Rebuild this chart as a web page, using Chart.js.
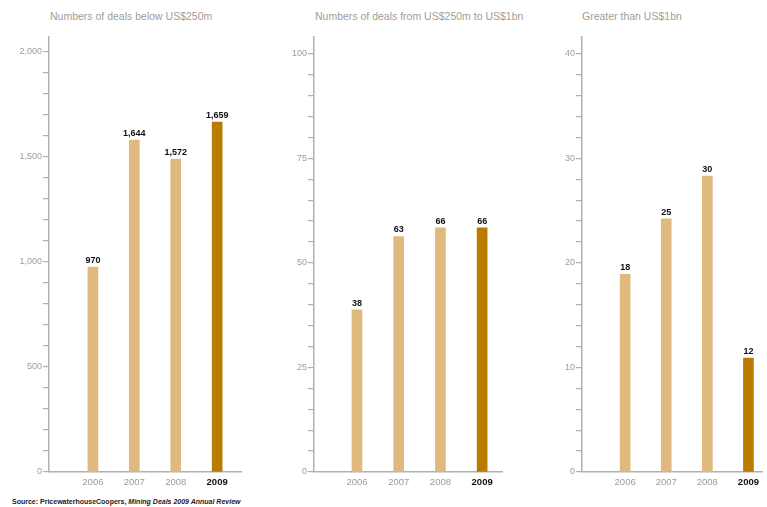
<!DOCTYPE html>
<html>
<head>
<meta charset="utf-8">
<script src="https://cdn.jsdelivr.net/npm/chart.js@4/dist/chart.umd.min.js"></script>
<style>
  html, body { margin: 0; padding: 0; background: #fff; }
  body { width: 767px; height: 507px; position: relative; overflow: hidden; font-family: "Liberation Sans", Arial, sans-serif; }
  .panel { position: absolute; top: 0; }
  .title { position: absolute; top: 10px; font-size: 10.5px; color: #a39c97; white-space: nowrap; }
  .source { position: absolute; left: 12px; top: 498px; font-size: 7px; font-weight: bold; color: #222; white-space: nowrap; }
</style>
</head>
<body>
<div class="title" style="left:50px">Numbers of deals below US$250m</div>
<div class="title" style="left:315px">Numbers of deals from US$250m to US$1bn</div>
<div class="title" style="left:582px">Greater than US$1bn</div>
<div class="panel" style="left:0px"><canvas id="c1"></canvas></div>
<div class="panel" style="left:260px"><canvas id="c2"></canvas></div>
<div class="panel" style="left:530px"><canvas id="c3"></canvas></div>
<div class="source">Source: PricewaterhouseCoopers, <i>Mining Deals 2009 Annual Review</i></div>
<script>
// ---- data ----
const years = ['2006', '2007', '2008', '2009'];
const belowValues = [974, 1577, 1487, 1663];
const belowLabels = ['970', '1,644', '1,572', '1,659'];
const midValues = [38.8, 56.3, 58.4, 58.4];
const midLabels = ['38', '63', '66', '66'];
const aboveValues = [18.9, 24.2, 28.3, 10.9];
const aboveLabels = ['18', '25', '30', '12'];
const yTicksBelow = [0, 500, 1000, 1500, 2000];
const yTicksMid = [0, 25, 50, 75, 100];
const yTicksAbove = [0, 10, 20, 30, 40];

// ---- style ----
const LIGHT = '#dfb97d';
const DARK = '#b97b02';
const AXIS = '#b8afa8';
const TICKTXT = '#a19a96';

const barLabelPlugin = {
  id: 'barLabels',
  afterDatasetsDraw(chart) {
    const ctx = chart.ctx;
    const labels = chart.options.plugins.barLabels.labels;
    const meta = chart.getDatasetMeta(0);
    ctx.save();
    ctx.font = 'bold 9px "Liberation Sans", Arial, sans-serif';
    ctx.fillStyle = '#111';
    ctx.textAlign = 'center';
    ctx.textBaseline = 'bottom';
    meta.data.forEach((bar, i) => {
      ctx.fillText(labels[i], bar.x, bar.y - 2);
    });
    ctx.restore();
  }
};

function makePanel(id, canvasLeft, axisX, endX, xmin, xmax, values, labels, yMax, yStep, yLabelTicks, fmt) {
  const el = document.getElementById(id);
  const width = endX - canvasLeft;
  el.width = width; el.height = 495;
  el.style.width = width + 'px'; el.style.height = '495px';
  new Chart(el, {
    type: 'bar',
    data: {
      datasets: [{
        data: years.map((y, i) => ({ x: Number(y), y: values[i] })),
        backgroundColor: years.map((y, i) => i === years.length - 1 ? DARK : LIGHT),
        barThickness: 10,
        borderWidth: 0
      }]
    },
    options: {
      responsive: false,
      animation: false,
      devicePixelRatio: 1,
      layout: { padding: { top: 37, right: 0, bottom: 0, left: 0 } },
      plugins: {
        legend: { display: false },
        tooltip: { enabled: false },
        barLabels: { labels: labels }
      },
      scales: {
        x: {
          type: 'linear',
          offset: false,
          min: xmin, max: xmax,
          afterBuildTicks: (axis) => { axis.ticks = years.map(y => ({ value: Number(y) })); },
          afterFit: (scale) => { scale.height = 23; },
          grid: { display: false, drawTicks: false, offset: false },
          border: { display: true, color: AXIS, width: 1.5 },
          ticks: {
            padding: 5,
            maxRotation: 0,
            autoSkip: false,
            callback: (v) => String(v),
            color: (c) => c.tick && c.tick.value === Number(years[years.length - 1]) ? '#111' : TICKTXT,
            font: (c) => ({ family: '"Liberation Sans", Arial, sans-serif', size: 9.5, weight: c.tick && c.tick.value === Number(years[years.length - 1]) ? 'bold' : 'normal' })
          }
        },
        y: {
          min: 0, max: yMax,
          afterBuildTicks: (axis) => {
            const t = [];
            for (let v = 0; v <= yMax + 1e-9; v += yStep) t.push({ value: Math.round(v * 1000) / 1000 });
            axis.ticks = t;
          },
          afterFit: (scale) => { scale.width = axisX - canvasLeft; },
          grid: { display: true, drawOnChartArea: false, drawTicks: true, tickLength: 6, color: AXIS, lineWidth: 1.2 },
          border: { display: true, color: AXIS, width: 1.5 },
          ticks: {
            padding: 1,
            autoSkip: false,
            color: TICKTXT,
            font: { family: '"Liberation Sans", Arial, sans-serif', size: 9 },
            callback: (v) => yLabelTicks.includes(v) ? fmt(v) : ''
          }
        }
      }
    },
    plugins: [barLabelPlugin]
  });
}

const comma = (v) => v.toLocaleString('en-US');
makePanel('c1', 0, 49, 242, 2004.94, 2009.6, belowValues, belowLabels, 2067, 100, yTicksBelow, comma);
makePanel('c2', 260, 314, 503, 2004.97, 2009.5, midValues, midLabels, 104, 5, yTicksMid, comma);
makePanel('c3', 530, 582, 764, 2004.95, 2009.35, aboveValues, aboveLabels, 41.6, 2, yTicksAbove, comma);
</script>
</body>
</html>
